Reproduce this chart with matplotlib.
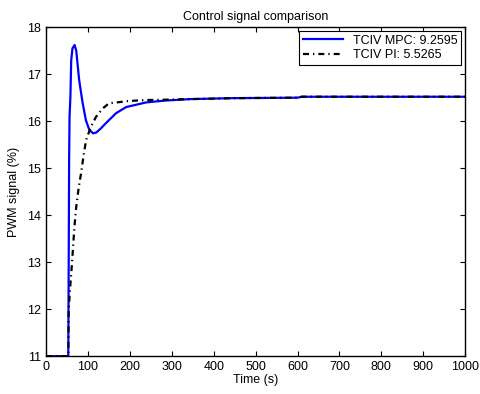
import matplotlib
matplotlib.use("Agg")
import matplotlib.pyplot as plt

plt.rcParams['font.family'] = ['Liberation Sans', 'DejaVu Sans']

# TCIV MPC response
t_mpc = [0, 53, 54, 55, 56, 58, 60, 63, 68, 72, 79, 87, 95, 103, 112, 120, 130, 143,
         167, 191, 239, 286, 344, 446, 600, 610, 1000]
u_mpc = [11, 11, 13.0, 15.2, 16.1, 16.5, 17.3, 17.55, 17.62, 17.5, 16.87, 16.4, 16.02,
         15.82, 15.74, 15.76, 15.84, 15.96, 16.17, 16.30, 16.40, 16.44, 16.47, 16.49,
         16.5, 16.52, 16.52]

# TCIV PI response
t_pi = [0, 53, 54, 57, 62, 67.6, 72, 78, 83.5, 89, 95.5, 107, 119, 135, 150, 198, 239,
        300, 446, 600, 610, 1000]
u_pi = [11, 11, 12.0, 12.4, 13.0, 13.75, 14.18, 14.6, 14.89, 15.24, 15.6, 15.88, 16.09,
        16.27, 16.38, 16.43, 16.45, 16.46, 16.49, 16.5, 16.52, 16.52]

fig = plt.figure(figsize=(4.8, 3.94), dpi=100)
ax = fig.add_axes([0.096, 0.096, 0.873, 0.835])

ax.plot(t_mpc, u_mpc, color="#0000ff", lw=1.6, label="TCIV MPC: 9.2595")
ax.plot(t_pi, u_pi, color="black", lw=1.6, ls=(0, (2.7, 1.8, 0.6, 1.8)),
        label="TCIV PI: 5.5265")

ax.set_xlim(0, 1000)
ax.set_ylim(11, 18)
ax.set_xticks(range(0, 1001, 100))
ax.set_yticks(range(11, 19))
ax.tick_params(direction="in", top=True, right=True, labelsize=9, length=3.5, width=0.8)
for s in ax.spines.values():
    s.set_linewidth(1.0)

ax.set_xlabel("Time (s)", fontsize=9, labelpad=1)
ax.set_ylabel("PWM signal (%)", fontsize=9, labelpad=5)
ax.set_title("Control signal comparison", fontsize=9, pad=5)

leg = ax.legend(loc="upper right", fontsize=9, fancybox=False, framealpha=1,
                edgecolor="black", borderaxespad=0.3, handlelength=3.2,
                labelspacing=0.2, borderpad=0.3)
leg.get_frame().set_linewidth(0.8)

fig.savefig("out.png", dpi=100)
